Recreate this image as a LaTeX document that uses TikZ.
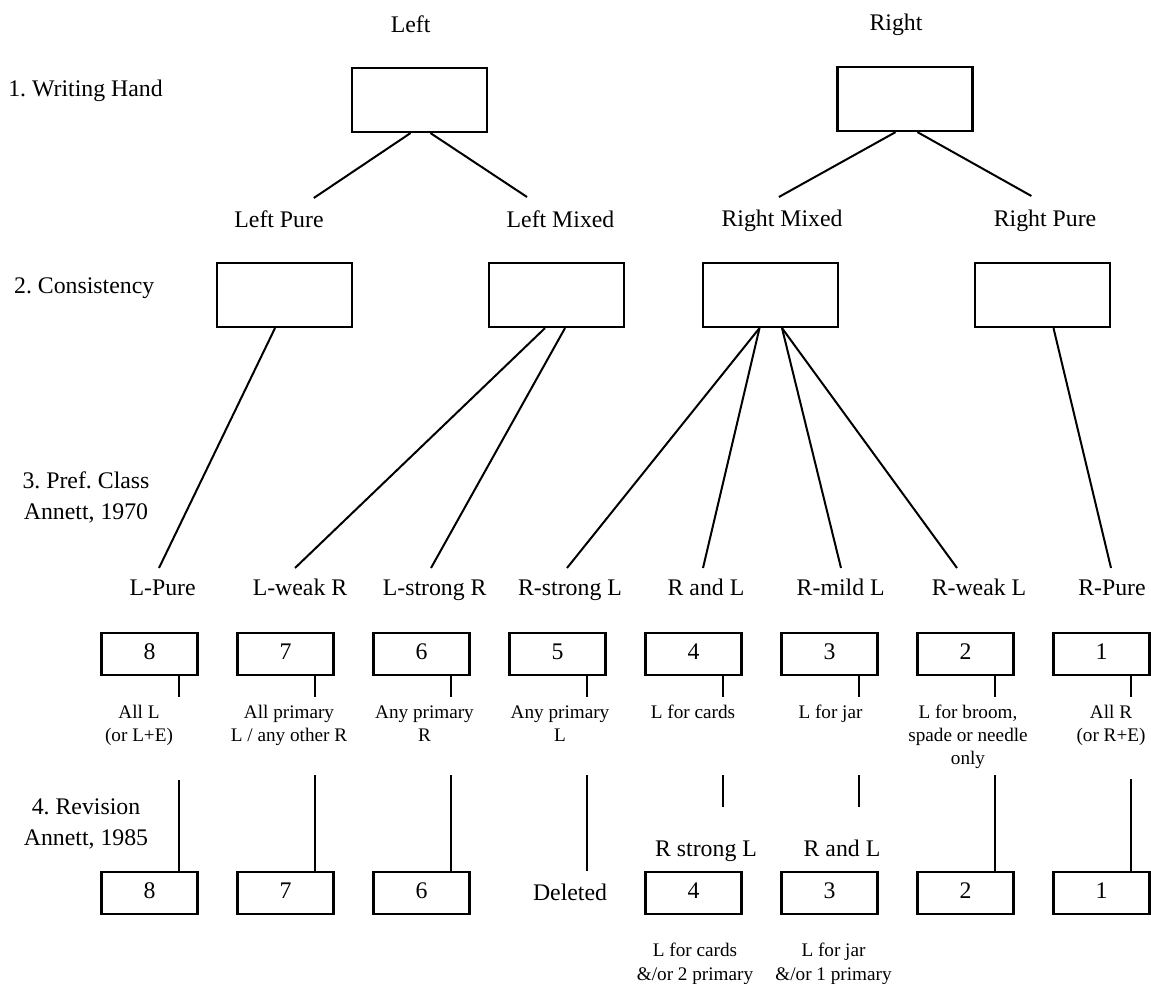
\documentclass[tikz,border=0pt]{standalone}
\usepackage{fontspec}
\setmainfont{Liberation Serif}
\usetikzlibrary{calc}
\frenchspacing
\begin{document}
\begin{tikzpicture}[x=1pt,y=-1pt,
  bigtxt/.style={inner sep=0, anchor=base, font=\fontsize{23.8}{31}\selectfont, align=center},
  smalltxt/.style={inner sep=0, anchor=base, font=\fontsize{19.2}{23.3}\selectfont, align=center},
  bigbox/.style={draw, line width=2.2pt, inner sep=0, minimum width=135pt, minimum height=64pt},
  numbox/.style={draw, line width=2.2pt, inner sep=0, minimum width=96pt, minimum height=42pt,
    font=\fontsize{23.8}{28}\selectfont, text height=16pt, text depth=5pt},
  conn/.style={line width=2pt}]
\useasboundingbox (0,0) rectangle (1151,984);

% headings and row labels (multi-line nodes are placed by the baseline of their last line)
\node[bigtxt] (hL) at (410.6,32.5) {Left};
\node[bigtxt] (hR) at (896,31) {Right};
\node[bigtxt] (r1) at (85.5,96.7) {1. Writing Hand};
\node[bigtxt] (r2) at (84.2,293.3) {2. Consistency};
\node[bigtxt] (r3) at (86,519) {3. Pref. Class\\Annett, 1970};
\node[bigtxt] (r4) at (86,845.3) {4. Revision\\Annett, 1985};

% level 1
\node[bigbox] (wl) at (419.5,100) {};
\node[bigbox] (wr) at (905,99) {};
\node[bigtxt] (tLP) at (279,227.7) {Left Pure};
\node[bigtxt] (tLM) at (560.5,227.7) {Left Mixed};
\node[bigtxt] (tRM) at (782,227) {Right Mixed};
\node[bigtxt] (tRP) at (1045,227) {Right Pure};
\coordinate (eLP) at (313.8,198);
\coordinate (eLM) at (527,197);
\coordinate (eRM) at (778.9,197);
\coordinate (eRP) at (1031.4,196);
\draw[conn] ($(wl.south)+(-9,0)$) -- (eLP);
\draw[conn] ($(wl.south)+(11,0)$) -- (eLM);
\draw[conn] ($(wr.south)+(-9.4,0)$) -- (eRM);
\draw[conn] ($(wr.south)+(12.4,0)$) -- (eRP);

% level 2
\node[bigbox] (cLP) at (284.5,295) {};
\node[bigbox] (cLM) at (556.5,295) {};
\node[bigbox] (cRM) at (770.5,295) {};
\node[bigbox] (cRP) at (1042.5,295) {};

% level 3 labels
\foreach \i/\x/\lab in {8/162.6/L-Pure, 7/300/L-weak R, 6/434.7/L-strong R, 5/570/R-strong L,
  4/706/R and L, 3/840.7/R-mild L, 2/979/R-weak L, 1/1112/R-Pure}
  \node[bigtxt] (p\i) at (\x,595.7) {\lab};
\foreach \i/\x in {8/159, 7/295, 6/431, 5/567, 4/703, 3/841, 2/957, 1/1111}
  \coordinate (q\i) at (\x,568);
\draw[conn] ($(cLP.south)+(-9.5,0)$) -- (q8);
\draw[conn] ($(cLM.south)+(-11.5,0)$) -- (q7);
\draw[conn] ($(cLM.south)+(8.5,0)$) -- (q6);
\draw[conn] ($(cRM.south)+(-11,0)$) -- (q5);
\draw[conn] ($(cRM.south)+(-11,0)$) -- (q4);
\draw[conn] ($(cRM.south)+(11.5,0)$) -- (q3);
\draw[conn] ($(cRM.south)+(11.5,0)$) -- (q2);
\draw[conn] ($(cRP.south)+(11,0)$) -- (q1);

% number boxes (Annett 1970)
\foreach \i/\x in {8/149.5, 7/285.5, 6/421.5, 5/557.5, 4/693.5, 3/829.5, 2/965.5, 1/1101.5}{
  \node[numbox] (n\i) at (\x,654) {\i};
  \coordinate (s\i) at (\x+29,697);
  \draw[conn] (n\i.south -| s\i) -- (s\i);
}

% descriptions
\node[smalltxt] (d8) at (139,741.6) {All L\\(or L+E)};
\node[smalltxt] (d7) at (289,741.6) {All primary\\L / any other R};
\node[smalltxt] (d6) at (424.5,741.6) {Any primary\\R};
\node[smalltxt] (d5) at (560,741.6) {Any primary\\L};
\node[smalltxt] (d4) at (693,718.3) {L for cards};
\node[smalltxt] (d3) at (830.5,718.3) {L for jar};
\node[smalltxt] (d2) at (968,764.9) {L for broom,\\spade or needle\\only};
\node[smalltxt] (d1) at (1111,741.6) {All R\\(or R+E)};

% revision row (Annett 1985)
\foreach \i/\x in {8/149.5, 7/285.5, 6/421.5, 4/693.5, 3/829.5, 2/965.5, 1/1101.5}
  \node[numbox] (b\i) at (\x,893.3) {\i};
\node[bigtxt] (b5) at (570,900) {Deleted};
\node[bigtxt] (rs) at (706,856.7) {R strong L};
\node[bigtxt] (ra) at (842,856.7) {R and L};
\node[smalltxt] (f4) at (695,980) {L for cards\\\&/or 2 primary};
\node[smalltxt] (f3) at (833.5,980) {L for jar\\\&/or 1 primary};

\coordinate (u8) at (178.5,780);
\coordinate (u7) at (314.5,775);
\coordinate (u6) at (450.5,775);
\coordinate (u5) at (586.5,775);
\coordinate (u4) at (722.5,775);
\coordinate (u3) at (858.5,775);
\coordinate (u2) at (994.5,775);
\coordinate (u1) at (1130.5,779);
\coordinate (v5) at (586.5,871);
\coordinate (v4) at (722.5,807);
\coordinate (v3) at (858.5,807);
\draw[conn] (u8) -- (b8.north -| u8);
\draw[conn] (u7) -- (b7.north -| u7);
\draw[conn] (u6) -- (b6.north -| u6);
\draw[conn] (u5) -- (v5);
\draw[conn] (u4) -- (v4);
\draw[conn] (u3) -- (v3);
\draw[conn] (u2) -- (b2.north -| u2);
\draw[conn] (u1) -- (b1.north -| u1);
\end{tikzpicture}
\end{document}
